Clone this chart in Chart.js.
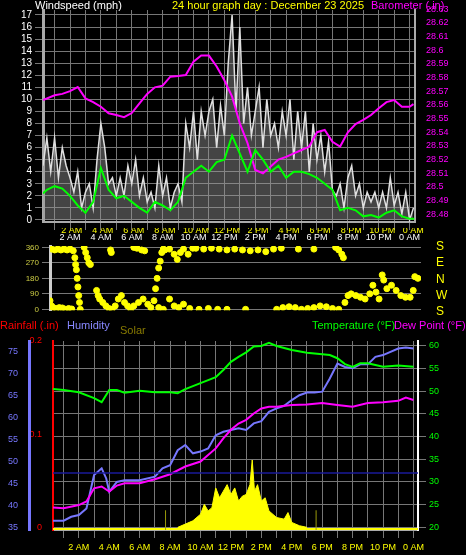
<!DOCTYPE html>
<html><head><meta charset="utf-8">
<script src="https://cdn.jsdelivr.net/npm/chart.js@4"></script>
<style>
body{margin:0;background:#000;width:466px;height:555px;overflow:hidden;position:relative;font-family:"Liberation Sans",Arial,sans-serif}
.c{position:absolute;left:0}
.t{position:absolute;font-size:11px;white-space:nowrap}
</style></head><body>
<div class="c" style="top:0;width:466px;height:240px"><canvas id="c1"></canvas></div>
<div class="c" style="top:228px;width:466px;height:90px"><canvas id="c2"></canvas></div>
<div class="c" style="top:323px;width:466px;height:232px"><canvas id="c3"></canvas></div>
<div class="t" style="left:35px;top:-1px;color:#fff">Windspeed (mph)</div>
<div class="t" style="left:172px;top:-1px;color:#ff0">24 hour graph day : December 23 2025</div>
<div class="t" style="left:371px;top:-1px;color:#f0f">Barometer (.in)</div>
<div class="t" style="left:436px;top:238px;color:#ff0;line-height:16.3px;font-size:12px">S<br>E<br>N<br>W<br>S</div>
<div class="t" style="left:0;top:319px;color:#f00">Rainfall (.in)</div>
<div class="t" style="left:67px;top:319px;color:#88f">Humidity</div>
<div class="t" style="left:120px;top:324px;color:#887a00">Solar</div>
<div class="t" style="left:312px;top:319px;color:#0f0">Temperature (°F)</div>
<div class="t" style="left:394px;top:319px;color:#f0f">Dew Point (°F)</div>
<script>
// ---------- data ----------
const gustStart = 0.25, gustStep = 0.25;
const windGust = [4.5,6.8,4,6.8,3.5,6,4.5,3.5, 2.3,4,1,2.3,3,1,5,8, 6,3,3.5,2,3.5,2,4.5,3,
 5,2,3.5,1.5,2.3,1,4.5,2, 3.5,1,2.3,3,1.5,8,6,9, 5,9,7,9,10,6,9.5,7,
 13,17,9,16,8,11,7,9, 11,6,10,7,8,6,9,7, 10,5,9,6,9,4,8,5,
 7,4,6.5,2.5,2,3,1,3.5, 4.5,2,3,1,2.3,1.5,2.3,1, 2.3,1,3.5,1.2,2.3,0.5,2.3,0, 1];
const avgHours = [0.25,0.5,1,1.5,2,2.5,3,3.5,4,4.5,5,5.5,6,6.5,7,7.5,8,8.5,9,9.5,10,10.5,11,11.5,12,12.5,13,13.5,14,14.5,15,15.5,16,16.5,17,17.5,18,18.5,19,19.5,20,20.5,21,21.5,22,22.5,23,23.5,24,24.3];
const windAvg = [2.2,2.5,2.8,2.6,2.0,1.2,0.6,1.5,4.3,2.5,1.8,2.0,1.5,1.0,0.6,1.5,1.2,0.8,1.5,3.5,4.0,4.5,4.0,4.8,5.0,7.0,5.5,4.0,5.8,5.0,4.0,4.5,3.5,4.0,4.0,3.8,3.5,3.0,2.5,0.8,1.0,0.8,0.3,0.4,0.2,0.6,0.8,0.3,0.1,0.1];
const baroHours = [0.25,1,1.5,2,2.5,3,3.5,4,4.5,5,5.5,6,6.5,7,7.5,8,8.5,9,9.5,10,10.5,11,11.5,12,12.5,13,13.5,14,14.5,15,15.5,16,16.5,17,17.5,18,18.5,19,19.5,20,20.5,21,21.5,22,22.5,23,23.5,24,24.25];
const baro = [28.5635,28.567,28.568,28.570,28.573,28.5647,28.562,28.5586,28.5538,28.5526,28.551,28.554,28.561,28.568,28.5728,28.574,28.5806,28.581,28.5818,28.5915,28.596,28.596,28.588,28.578,28.566,28.5465,28.532,28.5124,28.51,28.515,28.52,28.522,28.5245,28.527,28.5295,28.540,28.5416,28.533,28.5295,28.540,28.546,28.549,28.5526,28.5575,28.562,28.5635,28.5586,28.5586,28.5605];
const dirPts = [[0.6,50],[0.7,20],[0.8,10],[1.0,5],[1.2,10],[1.4,8],[1.6,0],[1.8,5],[2.0,2],
 [0.7,350],[0.9,345],[1.1,350],[1.3,345],[1.5,350],[1.7,345],[1.9,350],[2.1,340],
 [2.2,300],[2.25,260],[2.3,230],[2.35,180],[2.4,130],[2.45,80],[2.5,40],[2.55,0],
 [2.8,360],[2.9,330],[3.0,300],[3.1,270],[3.2,260],
 [3.6,110],[3.7,80],[3.8,60],[4.0,40],[4.2,20],[4.4,5],[4.6,0],[4.8,20],[5.0,60],[5.2,80],[5.4,40],[5.6,20],[5.8,0],
 [4.5,345],[4.55,330],[6.0,360],[6.2,355],[6.5,345],[6.7,340],
 [6.0,20],[6.3,40],[6.6,60],[6.9,30],[7.1,10],[7.3,50],[7.4,120],[7.5,180],[7.6,240],[7.7,280],[7.8,330],[7.9,350],
 [7.6,10],[7.9,0],
 [8.0,345],[8.3,350],[8.6,320],[8.8,290],[9.0,330],[9.2,350],[9.5,320],[9.8,355],
 [8.3,60],[8.6,20],[8.9,10],[9.2,30],[9.6,5],
 [10,355],[10.5,350],[11,355],[11.5,350],[12,345],[12.5,350],[13,345],[13.5,340],[14,345],[14.5,335],[15,350],[15.5,355],
 [10.2,0],[10.8,5],[11.4,0],[12,0],[13.2,0],
 [15.2,0],[15.6,10],[16,15],[16.4,10],[16.8,0],[17.2,5],[17.6,10],[18,20],[18.4,15],[18.8,5],[19.2,0],
 [16.6,350],[17.6,350],[19.0,360],[19.2,345],[19.4,320],[19.5,300],
 [19.6,40],[19.8,80],[20,90],[20.3,80],[20.6,70],[20.9,60],[21.2,90],[21.4,140],[21.6,100],[21.8,60],[22.0,200],[22.1,170],[22.3,120],[22.6,140],[22.9,110],[23.2,80],[23.5,70],[23.8,70],[24.0,110],[24.1,190],[24.3,180]];
const tHours = [0.25,1,2,3,3.5,4,4.5,5,6,7,8,8.5,9,10,11,11.5,12,12.5,13,13.5,14,14.5,15,16,17,18,18.5,19,19.5,20,20.5,21,21.5,22,23,24];
const temp = [50.5,50.3,49.8,48.5,47.6,50.3,50.3,49.7,50.1,49.8,49.8,49.6,50.5,51.8,53.1,54.7,56.5,57.6,58.6,59.9,60,60.7,60,59.1,58.5,58.2,58,57.3,56,55.4,56.2,56.2,55.8,55.4,55.7,55.4];
const dpHours = [0.25,1,2,2.5,3,3.5,4,4.5,5,6,7,8,9,10,11,11.5,12,12.5,13,13.5,14,14.5,15,16,17,18,19,20,21,22,23,23.5,24];
const dewPoint = [24.4,24.2,24.9,25.7,28.6,29,27.9,29.2,29.7,29.7,30.6,31.7,33.4,34.5,37.4,39.6,41.5,42.9,43.7,45.1,46.2,46.6,46.6,47,47.1,47.4,47,46.6,47.4,47.6,47.9,48.6,48.1];
const humHours = [0.25,1,1.5,2,2.5,3,3.5,3.8,4,4.5,5,6,7,7.5,8,8.5,9,9.5,10,10.5,11,11.5,12,12.5,13,13.5,14,14.5,15,15.5,16,16.5,17,17.5,18,18.5,19,19.5,20,20.5,21,21.5,22,23,23.5,24];
const humidity = [36.5,36.5,37.4,37.8,39.3,46.9,48.4,46.1,43.1,45.3,45.7,45.7,46.5,48.4,49.1,52.5,53.7,51.8,52.2,52.9,55.9,56.7,57.1,57.5,57.1,58.6,59.1,61.2,62,62.6,63.9,65,65.6,65.6,65.8,68.8,72.2,71.4,71.1,72,72,73.7,74.1,75.6,75.8,75.6];
const solarHours = [8.5,9,9.5,10,10.25,10.5,10.75,11,11.25,11.5,11.75,12,12.25,12.5,12.75,13,13.25,13.4,13.55,13.75,14,14.25,14.5,15,15.5,15.75,16,16.5,17];
const solar = [0,10,20,40,70,50,60,120,90,110,130,100,120,80,95,100,130,205,110,130,80,90,50,30,25,45,15,5,0];
const rainHours = [0.25,24.3];
const rain = [0,0];
const freezeHours = [0.25,24.3];
const freeze = [32,32];
const xTicks = [1,2,3,4,5,6,7,8,9,10,11,12,13,14,15,16,17,18,19,20,21,22,23,24];
const windTicks = [0,1,2,3,4,5,6,7,8,9,10,11,12,13,14,15,16,17];
const baroTicks = [28.48,28.49,28.5,28.51,28.52,28.53,28.54,28.55,28.56,28.57,28.58,28.59,28.6,28.61,28.62,28.63];
const dirTicks = [0,90,180,270,360];
const humTicks = [35,40,45,50,55,60,65,70,75];
const tempTicks = [20,25,30,35,40,45,50,55,60];
const rainTicks = [0,0.1,0.2];
const rainLabels = ['0','0.1','0.2'];

// ---------- helpers ----------
const pts = (xs, ys) => xs.map((x,i)=>({x, y: ys[i]}));
const hourLabel = v => { if (v % 2) return ''; const h = v % 24; const ap = (v>=12 && v<24)?'PM':'AM'; const hh = h%12===0 ? (v===24?0:12) : h%12; return hh + ' ' + ap; };
const setTicks = arr => s => { s.ticks = arr.map(v=>({value:v})); };
const fixW = w => s => { s.width = w; };
const fixH = h => s => { s.height = h; };
const dotted = {color:'#777', borderDash:[1,2], lineWidth:1};
Chart.defaults.font.family = '"Liberation Sans", Arial, sans-serif';
Chart.defaults.font.size = 10;
Chart.defaults.animation = false;
const common = {responsive:true, maintainAspectRatio:false, plugins:{legend:{display:false}, tooltip:{enabled:false}}, events:[]};

// ---------- chart 1 ----------
new Chart(document.getElementById('c1'), {
 type:'line',
 data:{datasets:[
  {data: pts(avgHours, windAvg), borderColor:'#00ff00', borderWidth:2, pointRadius:0, yAxisID:'w'},
  {data: pts(baroHours, baro), borderColor:'#ff00ff', borderWidth:2, pointRadius:0, yAxisID:'b'},
  {data: windGust.map((v,i)=>({x:gustStart+i*gustStep, y:v})), borderColor:'#e0e0e0', backgroundColor:'rgba(150,150,150,0.45)', fill:'origin', borderWidth:1.5, pointRadius:0, yAxisID:'w'}
 ]},
 options:{...common, layout:{padding:{top:10}},
  scales:{
   x:{type:'linear', min:0.25, max:24.35, afterBuildTicks:setTicks(xTicks), afterFit:fixH(18),
      ticks:{color:'#fff', autoSkip:false, maxRotation:0, callback:hourLabel, padding:2, font:{size:9}}, grid:dotted, border:{color:'#aaa', width:2}},
   w:{position:'left', min:-0.17, max:17.41, afterBuildTicks:setTicks(windTicks), afterFit:fixW(43),
      ticks:{color:'#fff', autoSkip:false, font:{size:10}}, grid:dotted, border:{color:'#aaa', width:3}},
   b:{position:'right', min:28.4744, max:28.6293, afterBuildTicks:setTicks(baroTicks), afterFit:fixW(51),
      ticks:{color:'#ff00ff', autoSkip:false, font:{size:9}, callback:v=>String(+v.toFixed(2))}, grid:{display:false}, border:{color:'#aaa', width:2}}
  }}
});

// ---------- chart 2 ----------
new Chart(document.getElementById('c2'), {
 type:'scatter',
 data:{datasets:[{data: dirPts.map(p=>({x:p[0], y:p[1]})), backgroundColor:'#ffff00', borderColor:'#ffff00', pointRadius:3}]},
 options:{...common, layout:{padding:{right:45, bottom:6}},
  scales:{
   x:{type:'linear', position:'top', min:0.6, max:24.5, afterBuildTicks:setTicks(xTicks), afterFit:fixH(18),
      ticks:{color:'#ff0', autoSkip:false, maxRotation:0, callback:hourLabel, padding:2, font:{size:9}}, grid:{display:false}, border:{display:false}},
   y:{min:-5, max:368, afterBuildTicks:setTicks(dirTicks), afterFit:fixW(50),
      ticks:{color:'#cccc44', autoSkip:false, font:{size:8}}, grid:dotted, border:{color:'#ccc', width:3}}
  }}
});

// ---------- chart 3 ----------
new Chart(document.getElementById('c3'), {
 type:'line',
 data:{datasets:[
  {data: pts(solarHours, solar.map(v=>v+8)), borderColor:'#ffff00', backgroundColor:'#ffff00', fill:'origin', borderWidth:1, pointRadius:0, yAxisID:'s'},
  {data: [{x:7.7,y:0},{x:7.7,y:60}], borderColor:'#99990a', borderWidth:1, pointRadius:0, yAxisID:'s'},
  {data: [{x:17.6,y:0},{x:17.6,y:60}], borderColor:'#99990a', borderWidth:1, pointRadius:0, yAxisID:'s'},
  {data: [{x:0.25,y:3},{x:24.3,y:3}], borderColor:'#ffff00', borderWidth:2, pointRadius:0, yAxisID:'s'},
  {data: pts(freezeHours, freeze), borderColor:'#1a1a9a', borderWidth:1.5, pointRadius:0, yAxisID:'t'},
  {data: pts(rainHours, rain), borderColor:'#ff0000', borderWidth:3, pointRadius:0, yAxisID:'r'},
  {data: pts(tHours, temp), borderColor:'#00ff00', borderWidth:2, pointRadius:0, yAxisID:'t'},
  {data: pts(dpHours, dewPoint), borderColor:'#ff00ff', borderWidth:2, pointRadius:0, yAxisID:'t'},
  {data: pts(humHours, humidity), borderColor:'#7777ff', borderWidth:2, pointRadius:0, yAxisID:'h'}
 ]},
 options:{...common, layout:{padding:{top:18}},
  scales:{
   x:{type:'linear', min:0.3, max:24.3, afterBuildTicks:setTicks(xTicks), afterFit:fixH(25),
      ticks:{color:'#ff0', autoSkip:false, maxRotation:0, callback:hourLabel, padding:4, font:{size:9}}, grid:dotted, border:{color:'#aaa', width:2}},
   r:{position:'left', min:-0.0029, max:0.2, afterBuildTicks:setTicks(rainTicks), afterFit:fixW(24),
      ticks:{color:'#ff0000', autoSkip:false, font:{size:9}, callback:(v,i)=>rainLabels[i]}, grid:{display:false}, border:{color:'#ff0000', width:2}},
   h:{position:'left', min:34.4, max:77.3, afterBuildTicks:setTicks(humTicks), afterFit:fixW(29),
      ticks:{color:'#7777ff', autoSkip:false, font:{size:9}}, grid:{display:false}, border:{color:'#7777ff', width:3}},
   t:{position:'right', min:19.4, max:61.1, afterBuildTicks:setTicks(tempTicks), afterFit:fixW(48),
      ticks:{color:'#00ff00', autoSkip:false, font:{size:9}}, grid:dotted, border:{color:'#fff', width:2}},
   s:{display:false, min:0, max:575}
  }}
});
</script></body></html>
